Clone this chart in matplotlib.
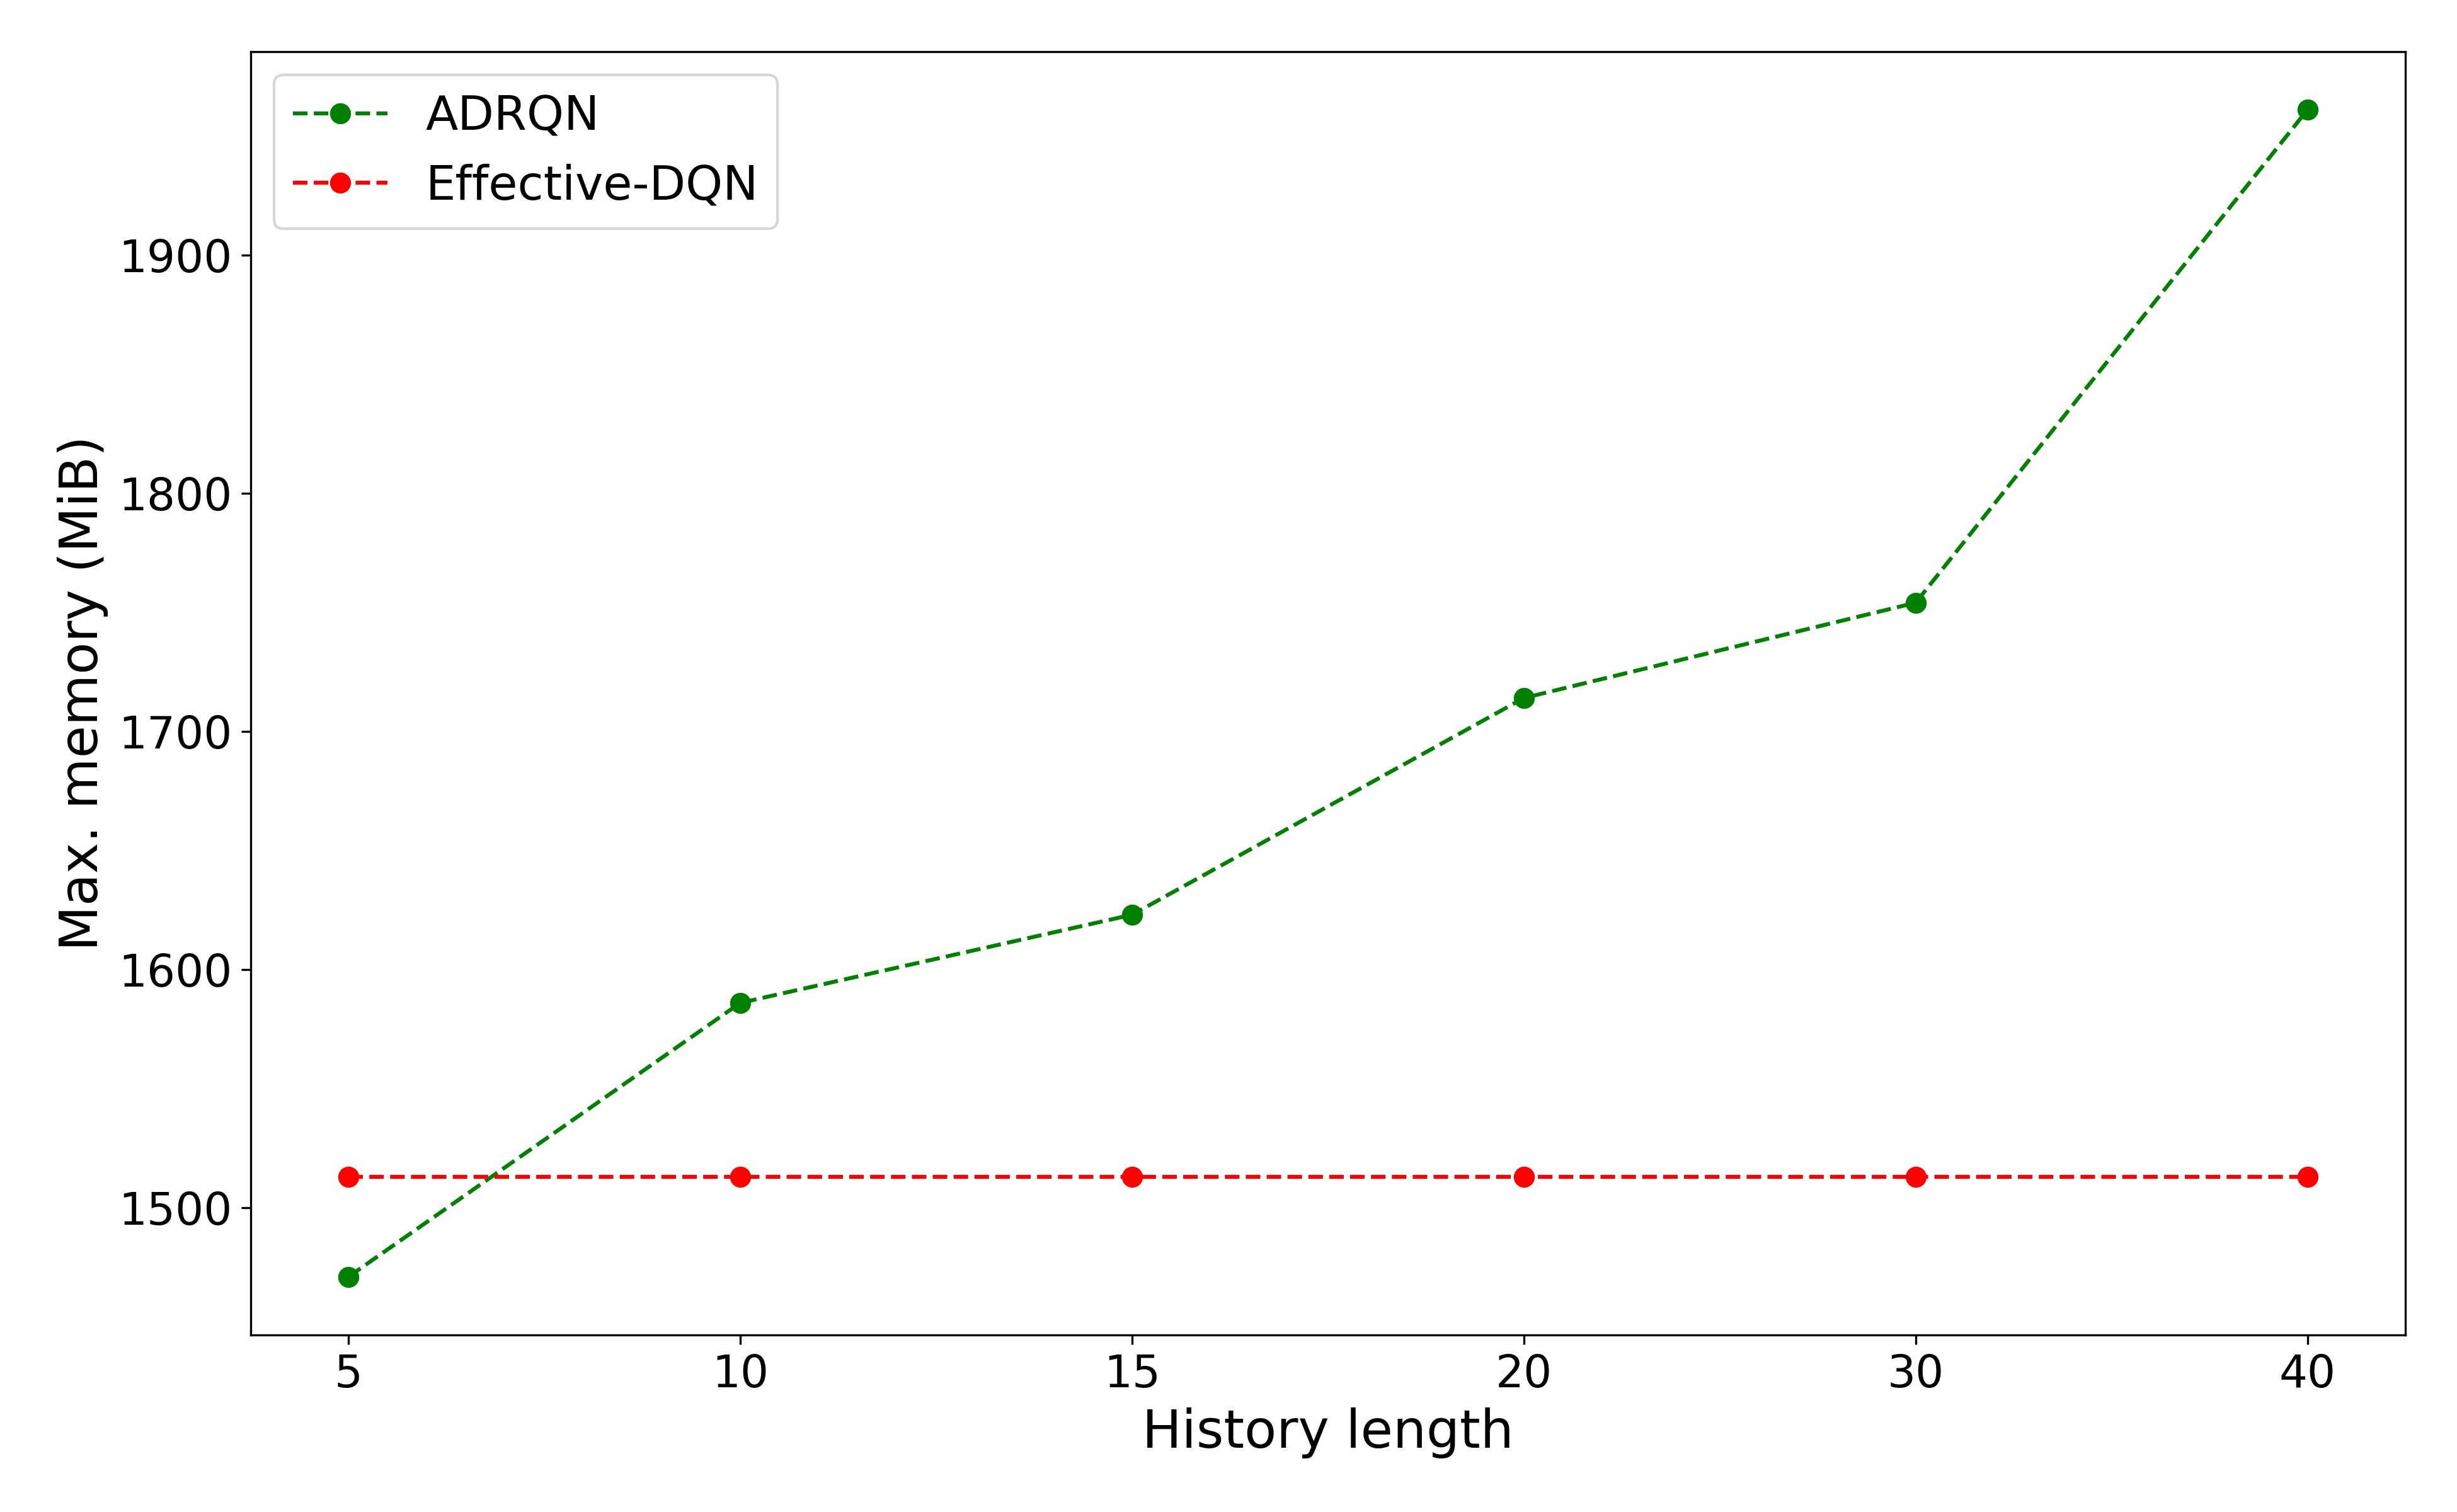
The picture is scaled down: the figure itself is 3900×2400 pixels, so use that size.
import matplotlib
matplotlib.use("Agg")
import matplotlib.pyplot as plt

history_labels = ["5", "10", "15", "20", "30", "40"]
adrqn_memory = [1471, 1586, 1623, 1714, 1754, 1961]
effective_dqn_memory = [1513, 1513, 1513, 1513, 1513, 1513]

fig, ax = plt.subplots(figsize=(13, 8), dpi=300)
x = list(range(len(history_labels)))
ax.plot(x, adrqn_memory, "o--", color="green", label="ADRQN", linewidth=1.5, markersize=7)
ax.plot(x, effective_dqn_memory, "o--", color="red", label="Effective-DQN", linewidth=1.5, markersize=7)
ax.set_xticks(x)
ax.set_xticklabels(history_labels)
ax.tick_params(labelsize=17)
ax.set_xlabel("History length", fontsize=20)
ax.set_ylabel("Max. memory (MiB)", fontsize=20)
ax.set_yticks([1500, 1600, 1700, 1800, 1900])
ax.legend(fontsize=18, loc="upper left")
fig.subplots_adjust(left=0.102, right=0.979, top=0.966, bottom=0.117)
fig.savefig("out.png", dpi=300)
